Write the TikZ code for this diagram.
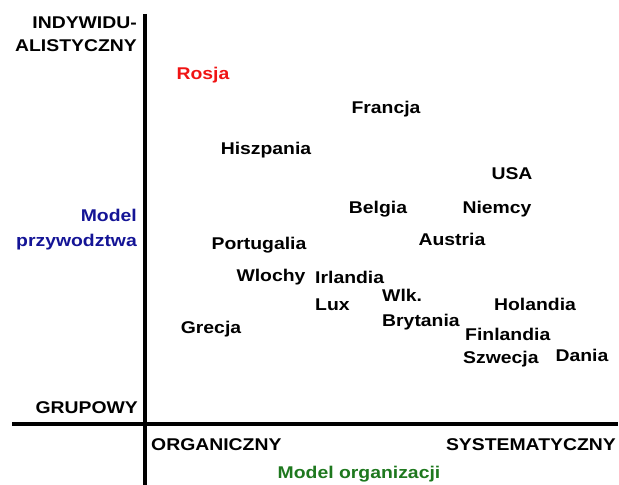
\documentclass[tikz,border=0pt]{standalone}
\usepackage{fontspec}
\newfontfamily\labfont{Liberation Sans}[FakeStretch=1.14]
\definecolor{rosred}{RGB}{240,20,20}
\definecolor{leadblue}{RGB}{20,20,150}
\definecolor{orggreen}{RGB}{30,120,30}
\begin{document}
\begin{tikzpicture}[x=1bp,y=-1bp,
  lab/.style={inner sep=0pt,font=\labfont\bfseries\fontsize{17bp}{20bp}\selectfont,text=black},
  axisline/.style={line width=3.5bp,black}]
\useasboundingbox (0,0) rectangle (619,485);
% axes
\coordinate (vtop) at (145,14);
\coordinate (vbot) at (145,485);
\coordinate (hl) at (12,424);
\coordinate (hr) at (618,424);
\draw[axisline] (vtop) -- (vbot);
\draw[axisline] (hl) -- (hr);
% axis labels
\node[lab,anchor=base east] (ind1) at (137,29) {INDYWIDU-};
\node[lab,anchor=base east] (ind2) at (137,52) {ALISTYCZNY};
\node[lab,anchor=base east,text=leadblue] (ml1) at (137,222) {Model};
\node[lab,anchor=base east,text=leadblue] (ml2) at (137,247) {przywodztwa};
\node[lab,anchor=base east] (grp) at (138,413) {GRUPOWY};
\node[lab,anchor=base west] (org) at (151,450) {ORGANICZNY};
\node[lab,anchor=base east] (sys) at (616,450) {SYSTEMATYCZNY};
\node[lab,anchor=base,text=orggreen] (mo) at (359,478) {Model organizacji};
% countries
\node[lab,anchor=base,text=rosred] (rosja) at (203,80) {Rosja};
\node[lab,anchor=base] (francja) at (386,114) {Francja};
\node[lab,anchor=base] (hiszp) at (266,155) {Hiszpania};
\node[lab,anchor=base] (usa) at (512,180) {USA};
\node[lab,anchor=base] (belgia) at (378,214) {Belgia};
\node[lab,anchor=base] (niemcy) at (497,214) {Niemcy};
\node[lab,anchor=base] (austria) at (452,246) {Austria};
\node[lab,anchor=base] (portug) at (259,249) {Portugalia};
\node[lab,anchor=base] (wlochy) at (271,281) {Wlochy};
\node[lab,anchor=base west] (irl) at (315,283) {Irlandia};
\node[lab,anchor=base west] (lux) at (315,310) {Lux};
\node[lab,anchor=base west] (wlk) at (382,301) {Wlk.};
\node[lab,anchor=base west] (bryt) at (382,326) {Brytania};
\node[lab,anchor=base] (hol) at (535,310) {Holandia};
\node[lab,anchor=base west] (fin) at (465,340) {Finlandia};
\node[lab,anchor=base west] (szw) at (463,363) {Szwecja};
\node[lab,anchor=base] (dania) at (582,361) {Dania};
\node[lab,anchor=base] (grecja) at (211,333) {Grecja};
\end{tikzpicture}
\end{document}
